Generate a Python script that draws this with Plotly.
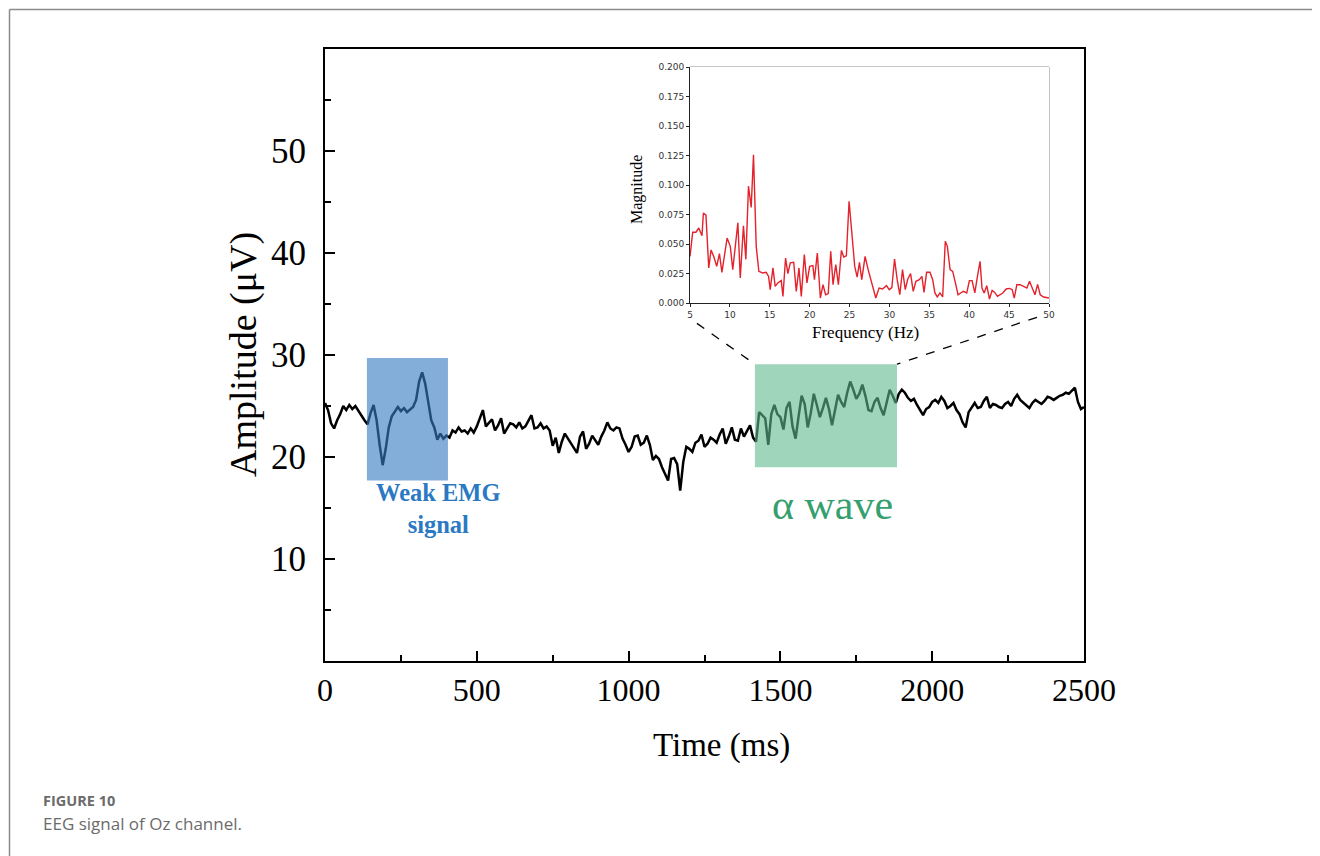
import plotly.graph_objects as go

# ---------------- data ----------------
time_ms = list(range(0, 2510, 10))
amplitude_uv = [
    25.3, 24.6, 23.3, 22.8, 23.6, 24.2, 25.0, 24.6, 25.1, 24.7,
    25.0, 24.5, 24.0, 23.6, 23.2, 24.3, 25.1, 23.6, 21.2, 19.2,
    20.8, 22.9, 24.0, 24.4, 24.9, 24.5, 24.8, 24.4, 24.7, 24.9,
    25.6, 27.4, 28.3, 27.2, 25.4, 23.6, 22.9, 21.7, 22.3, 21.8,
    22.1, 21.9, 22.6, 22.4, 22.9, 22.5, 22.6, 22.3, 22.8, 22.4,
    23.0, 23.8, 24.6, 23.0, 23.4, 23.7, 22.6, 23.1, 23.8, 22.3,
    22.8, 23.3, 23.2, 22.9, 23.4, 22.8, 23.0, 23.6, 24.1, 22.8,
    22.9, 23.3, 22.8, 23.0, 22.6, 21.1, 21.9, 20.4, 21.5, 22.3,
    21.8, 21.3, 20.9, 20.4, 22.0, 22.5, 20.8, 21.3, 22.1, 21.6,
    21.2, 22.0, 22.6, 23.4, 22.8, 22.6, 22.9, 22.8, 21.8, 21.2,
    20.5, 21.0, 22.0, 22.1, 21.2, 21.4, 22.1, 21.2, 19.7, 20.1,
    19.8, 19.0, 18.3, 17.7, 19.8, 19.9, 19.3, 16.7, 19.5, 21.0,
    20.8, 20.5, 21.4, 21.6, 22.2, 21.0, 21.3, 21.9, 21.7, 21.4,
    22.2, 22.8, 21.3, 22.0, 22.9, 21.7, 21.6, 22.8, 22.0, 22.5,
    23.1, 21.9, 21.5, 24.4, 24.1, 23.8, 21.2, 24.2, 25.1, 24.2,
    23.9, 22.7, 24.8, 25.4, 23.0, 21.8, 24.0, 26.0, 25.2, 22.9,
    24.3, 26.2, 25.1, 23.9, 24.8, 25.8, 24.7, 23.1, 24.6, 26.1,
    25.4, 24.9, 26.3, 27.4, 26.6, 25.7, 26.2, 27.1, 26.0, 24.6,
    24.5, 25.4, 25.8, 24.8, 24.1, 25.3, 26.6, 26.0, 25.3, 26.2,
    26.6, 26.3, 25.8, 25.5, 25.7, 25.1, 24.6, 24.1, 24.7, 24.9,
    25.4, 25.6, 25.3, 25.9, 25.5, 24.8, 25.0, 25.3, 24.6, 24.2,
    23.4, 22.9, 24.4, 24.9, 25.3, 24.8, 24.9, 25.5, 25.9, 24.8,
    25.2, 25.1, 24.9, 24.8, 25.2, 25.4, 25.0, 25.7, 26.1, 25.6,
    25.3, 25.0, 24.8, 25.3, 25.6, 25.4, 25.2, 25.5, 25.9, 25.8,
    25.6, 25.8, 26.0, 26.1, 26.3, 26.2, 26.5, 26.8, 25.4, 24.7,
    24.9,
]

freq_hz = [
    5.0, 5.34, 5.75, 6.1, 6.5, 6.68, 7.0, 7.35, 7.64, 8.0, 8.35, 8.69, 9.0,
    9.65, 10.05, 10.36, 11.0, 11.3, 11.7, 12.0, 12.33, 12.67, 12.96, 13.3,
    13.63, 14.1, 14.55, 14.85, 15.05, 15.4, 15.68, 16.0, 16.44, 16.65,
    16.98, 17.27, 17.57, 18.0, 18.32, 18.66, 18.95, 19.33, 19.66, 20.0,
    20.4, 20.6, 20.96, 21.34, 21.67, 22.0, 22.33, 22.64, 22.93, 23.27,
    23.6, 23.98, 24.27, 24.6, 24.94, 25.32, 25.65, 25.95, 26.24, 26.53,
    26.95, 27.33, 27.75, 28.29, 28.7, 29.13, 29.63, 29.97, 30.3, 30.64,
    30.97, 31.3, 31.64, 31.98, 32.3, 32.65, 32.98, 33.32, 33.74, 34.07,
    34.33, 34.66, 35.08, 35.42, 35.7, 36.0, 36.33, 36.67, 37.0, 37.26,
    37.6, 37.93, 38.27, 38.6, 38.93, 39.27, 39.69, 40.02, 40.36, 40.7,
    41.03, 41.36, 41.6, 41.87, 42.2, 42.54, 42.87, 43.2, 43.54, 43.88,
    44.21, 44.63, 45.05, 45.39, 45.64, 45.97, 46.39, 46.81, 47.23, 47.56,
    47.9, 48.24, 48.57, 48.9, 49.32, 50.0,
]
magnitude = [
    0.0395, 0.0600, 0.0600, 0.0636, 0.0570, 0.0763, 0.0745, 0.0297, 0.0450,
    0.0390, 0.0310, 0.0418, 0.0260, 0.0550, 0.0480, 0.0283, 0.0680, 0.0212,
    0.0655, 0.0370, 0.0990, 0.0810, 0.1257, 0.0480, 0.0268, 0.0255, 0.0260,
    0.0225, 0.0113, 0.0297, 0.0141, 0.0170, 0.0190, 0.0056, 0.0380, 0.0249,
    0.0340, 0.0345, 0.0099, 0.0297, 0.0056, 0.0410, 0.0170, 0.0310, 0.0317,
    0.0198, 0.0424, 0.0042, 0.0155, 0.0070, 0.0080, 0.0438, 0.0155, 0.0325,
    0.0155, 0.0446, 0.0390, 0.0400, 0.0862, 0.0550, 0.0310, 0.0220, 0.0345,
    0.0198, 0.0395, 0.0283, 0.0170, 0.0042, 0.0127, 0.0119, 0.0147, 0.0113,
    0.0130, 0.0373, 0.0198, 0.0070, 0.0283, 0.0113, 0.0203, 0.0249, 0.0099,
    0.0184, 0.0198, 0.0226, 0.0090, 0.0260, 0.0260, 0.0198, 0.0085, 0.0051,
    0.0085, 0.0051, 0.0523, 0.0480, 0.0283, 0.0268, 0.0170, 0.0070, 0.0085,
    0.0099, 0.0085, 0.0190, 0.0190, 0.0085, 0.0226, 0.0353, 0.0127, 0.0085,
    0.0147, 0.0034, 0.0107, 0.0090, 0.0056, 0.0070, 0.0085, 0.0119, 0.0124,
    0.0113, 0.0042, 0.0155, 0.0155, 0.0141, 0.0127, 0.0184, 0.0119, 0.0070,
    0.0158, 0.0070, 0.0051, 0.0042,
]

x_ticks = [0, 500, 1000, 1500, 2000, 2500]
y_ticks = [10, 20, 30, 40, 50]
y_minor = [5, 15, 25, 35, 45, 55]
f_ticks = [5, 10, 15, 20, 25, 30, 35, 40, 45, 50]
m_ticks = [0.0, 0.025, 0.05, 0.075, 0.1, 0.125, 0.15, 0.175, 0.2]

# ---------------- figure ----------------
SERIF = "Liberation Serif, Times New Roman, serif"
OFF = 8  # page body margin of the browser
W, H = 1320 - OFF, 856 - OFF
# plot area in screen pixels
X_L, X_R, Y_T, Y_B = 325, 1084, 49, 661
ML, MR, MT, MB = X_L - OFF, 1320 - X_R, Y_T - OFF, 856 - Y_B
PW, PH = X_R - X_L, Y_B - Y_T


def px(x):
    return (x - X_L) / PW


def py(y):
    return (Y_B - y) / PH


fig = go.Figure()
fig.add_trace(go.Scatter(x=time_ms, y=amplitude_uv, mode="lines",
                         line=dict(color="black", width=2.5),
                         xaxis="x", yaxis="y", showlegend=False,
                         hoverinfo="skip"))
fig.add_trace(go.Scatter(x=freq_hz, y=magnitude, mode="lines",
                         line=dict(color="#e3222b", width=1.4),
                         xaxis="x2", yaxis="y2", showlegend=False,
                         hoverinfo="skip"))

axis_main = dict(showline=True, linecolor="black", linewidth=2, mirror=True,
                 ticks="inside", ticklen=10, tickwidth=2, tickcolor="black",
                 showgrid=False, zeroline=False)

fig.update_layout(
    width=W, height=H,
    margin=dict(l=ML, r=MR, t=MT, b=MB, autoexpand=False),
    paper_bgcolor="white", plot_bgcolor="white",
    xaxis=dict(domain=[0, 1], range=[0, 2500], tickvals=x_ticks,
               minor=dict(ticks="inside", ticklen=6, tickwidth=2,
                          tickcolor="black", dtick=250, showgrid=False),
               anchor="y",
               tickfont=dict(family=SERIF, size=32, color="black"),
               **axis_main),
    yaxis=dict(domain=[0, 1], range=[0, 60], tickvals=y_ticks,
               minor=dict(ticks="inside", ticklen=6, tickwidth=2,
                          tickcolor="black", tickvals=y_minor, showgrid=False),
               anchor="x", ticklabelstandoff=10,
               tickfont=dict(family=SERIF, size=35, color="black"),
               **axis_main),
    xaxis2=dict(domain=[px(690), px(1049)], range=[5, 50], tickvals=f_ticks,
                anchor="y2", showline=True, linecolor="#222", linewidth=1,
                ticks="outside", ticklen=3, tickwidth=1, tickcolor="#222",
                showgrid=False, zeroline=False,
                tickfont=dict(family="DejaVu Sans", size=9, color="#333")),
    yaxis2=dict(domain=[py(303), py(67)], range=[0, 0.2], tickvals=m_ticks,
                tickformat=".3f", anchor="x2", showline=True, linecolor="#222",
                linewidth=1, ticks="outside", ticklen=3, tickwidth=1,
                tickcolor="#222", showgrid=False, zeroline=False,
                tickfont=dict(family="DejaVu Sans", size=9, color="#333")),
)

shapes = [
    # inset frame (top/right in grey)
    dict(type="rect", xref="x2 domain", yref="y2 domain", x0=0, x1=1, y0=0,
         y1=1, line=dict(color="#8a8a8a", width=1), layer="below"),
    # highlighted regions
    dict(type="rect", xref="x", yref="y", x0=138, x1=405, y0=17.7, y1=29.7,
         fillcolor="rgba(55,125,195,0.62)", line=dict(width=0), layer="above"),
    dict(type="rect", xref="x", yref="y", x0=1416, x1=1884, y0=19.0, y1=29.1,
         fillcolor="rgba(95,185,140,0.6)", line=dict(width=0), layer="above"),
    # zoom connector lines
    dict(type="line", xref="x", yref="y", x0=1225, y0=33.1, x1=1416, y1=29.1,
         line=dict(color="black", width=1.3, dash="dash")),
    dict(type="line", xref="x", yref="y", x0=2345, y0=33.7, x1=1884, y1=29.1,
         line=dict(color="black", width=1.3, dash="dash")),
    # page frame
    dict(type="line", xref="paper", yref="paper", x0=px(9.5), x1=px(9.5),
         y0=py(856), y1=py(9.5), line=dict(color="#8c8c8c", width=1.5)),
    dict(type="line", xref="paper", yref="paper", x0=px(9.5), x1=px(1320),
         y0=py(9.5), y1=py(9.5), line=dict(color="#8c8c8c", width=1.5)),
]
fig.update_layout(shapes=shapes)

annotations = [
    dict(text="Amplitude (μV)", xref="paper", yref="paper", x=px(243),
         y=py(355), textangle=-90, showarrow=False, xanchor="center",
         yanchor="middle", font=dict(family=SERIF, size=38, color="black")),
    dict(text="Time (ms)", xref="paper", yref="paper", x=px(721), y=py(745),
         showarrow=False, xanchor="center", yanchor="middle",
         font=dict(family=SERIF, size=33, color="black")),
    dict(text="Magnitude", xref="paper", yref="paper", x=px(637), y=py(190),
         textangle=-90, showarrow=False, xanchor="center", yanchor="middle",
         font=dict(family=SERIF, size=16, color="black")),
    dict(text="Frequency (Hz)", xref="paper", yref="paper", x=px(865),
         y=py(332), showarrow=False, xanchor="center", yanchor="middle",
         font=dict(family=SERIF, size=17, color="black")),
    dict(text="<b>Weak EMG<br>signal</b>", xref="x", yref="y", x=375, y=15.0,
         showarrow=False, xanchor="center", yanchor="middle",
         font=dict(family=SERIF, size=24.5, color="#2b79c2")),
    dict(text="α wave", xref="x", yref="y", x=1670, y=15.3, showarrow=False,
         xanchor="center", yanchor="middle",
         font=dict(family=SERIF, size=42, color="#35a06e")),
    dict(text="<b>FIGURE 10</b>", xref="paper", yref="paper", x=px(41),
         y=py(800), showarrow=False, xanchor="left", yanchor="middle",
         font=dict(family="Open Sans", size=14.5, color="#6b6b6b")),
    dict(text="EEG signal of Oz channel.", xref="paper", yref="paper",
         x=px(41), y=py(823), showarrow=False, xanchor="left",
         yanchor="middle",
         font=dict(family="Open Sans", size=17, color="#6b6b6b")),
]
fig.update_layout(annotations=annotations)

fig.write_html("out.html")
